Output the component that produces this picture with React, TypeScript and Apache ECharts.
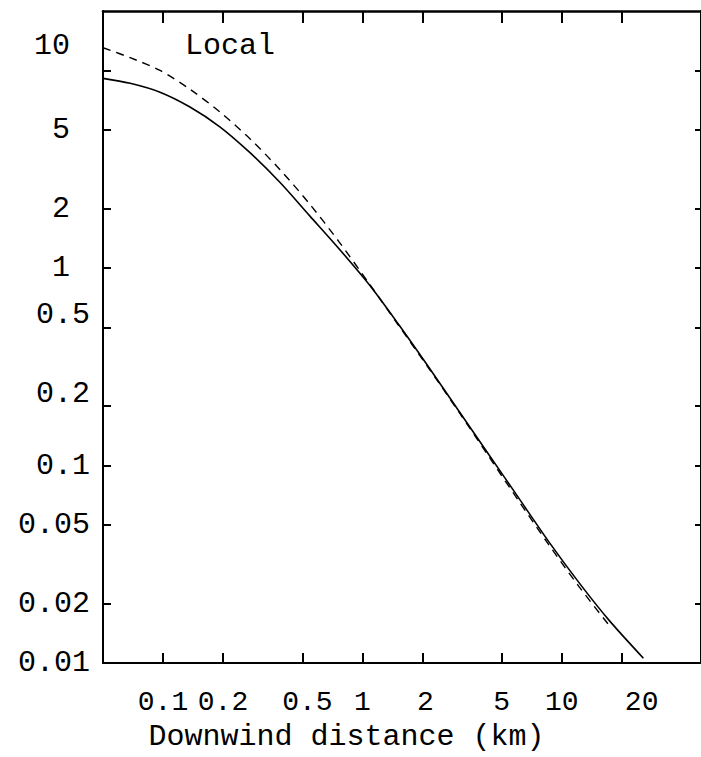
import React, { useEffect, useRef } from "react";
import * as echarts from "echarts";

const xTickValues = [0.1, 0.2, 0.5, 1, 2, 5, 10, 20];
const xTickLabels = ["0.1", "0.2", "0.5", "1", "2", "5", "10", "20"];
const yTickValues = [0.01, 0.02, 0.05, 0.1, 0.2, 0.5, 1, 2, 5, 10];
const yTickLabels = ["0.01", "0.02", "0.05", "0.1", "0.2", "0.5", "1", "2", "5", "10"];

// Solid curve (downwind distance km, value)
const solidX = [0.05, 0.0684, 0.0966, 0.1365, 0.1928, 0.2723, 0.3846, 0.5433, 0.7674, 1.084, 1.531, 2.163, 3.055, 4.315, 6.095, 8.61, 12.16, 17.18, 25.7];
const solidY = [9.12, 8.61, 7.762, 6.531, 5.188, 3.846, 2.723, 1.841, 1.245, 0.8222, 0.5129, 0.3126, 0.1884, 0.1135, 0.0684, 0.04121, 0.0257, 0.0166, 0.01059];

// Dashed curve
const dashedX = [0.05, 0.0684, 0.0966, 0.1365, 0.1928, 0.2723, 0.3846, 0.5433, 0.7674, 1.084, 1.531, 2.163, 3.055, 4.315, 6.095, 8.61, 12.16, 17.18];
const dashedY = [13.03, 11.61, 10.0, 8.035, 6.166, 4.519, 3.162, 2.113, 1.349, 0.8318, 0.507, 0.309, 0.1862, 0.1109, 0.0661, 0.0398, 0.02455, 0.01567];

const panelLabel = "Local";
const xTitle = "Downwind distance (km)";

const FONT = "'Liberation Mono', 'DejaVu Sans Mono', monospace";
const FS = 30;

function lookup(vals: number[], v: number): number {
  return vals.findIndex((t) => Math.abs(Math.log10(t) - Math.log10(v)) < 1e-4);
}

const base = { fontFamily: FONT, fontSize: FS, color: "#000", lineHeight: 30 };
const xBase = { fontFamily: FONT, fontSize: 28, color: "#000", lineHeight: 30 };

// horizontal nudges of x labels as in the typeset original
const xRich: Record<string, any> = {
  d: { ...xBase },
  c: { ...xBase, padding: [0, 0, 0, 10] },
  f: { ...xBase, padding: [0, 0, 0, 6] },
  s: { ...xBase, padding: [0, 0, 0, 40] },
};
const xStyleKey: Record<string, string> = { "0.5": "c", "2": "f", "20": "s" };

export default function App() {
  const ref = useRef<HTMLDivElement>(null);
  useEffect(() => {
    const chart = echarts.init(ref.current!, null, { renderer: "svg" });
    const axisLine = { show: true, lineStyle: { color: "#000", width: 2 } };
    const option: any = {
      animation: false,
      backgroundColor: "#fff",
      grid: { left: 103, right: -2, top: 11, bottom: 86 },
      xAxis: [
        {
          type: "log",
          logBase: 10,
          min: 0.05,
          max: 50,
          position: "bottom",
          axisLine,
          splitLine: { show: false },
          minorTick: { show: false },
          axisTick: { show: true, inside: true, length: 10, lineStyle: { color: "#000", width: 2 }, customValues: xTickValues },
          axisLabel: {
            show: true,
            margin: 24,
            hideOverlap: false,
            showMinLabel: true,
            showMaxLabel: true,
            customValues: xTickValues,
            ...xBase,
            formatter: (v: number) => {
              const i = lookup(xTickValues, v);
              if (i < 0) return "";
              const s = xTickLabels[i];
              return `{${xStyleKey[s] || "d"}|${s}}`;
            },
            rich: xRich,
          },
          name: xTitle,
          nameLocation: "middle",
          nameGap: 54,
          nameTextStyle: { ...base, padding: [0, 111, 0, 0] },
        },
        {
          type: "log",
          logBase: 10,
          min: 0.05,
          max: 50,
          position: "top",
          axisLine: { show: true, lineStyle: { color: "#000", width: 2.5 } },
          splitLine: { show: false },
          minorTick: { show: false },
          axisTick: { show: true, inside: true, length: 12, lineStyle: { color: "#000", width: 2 }, customValues: xTickValues },
          axisLabel: { show: false },
        },
      ],
      yAxis: [
        {
          type: "log",
          logBase: 10,
          min: 0.01,
          max: 20,
          position: "left",
          axisLine,
          splitLine: { show: false },
          minorTick: { show: false },
          axisTick: { show: true, inside: true, length: 8, lineStyle: { color: "#000", width: 2 }, customValues: yTickValues },
          axisLabel: {
            show: true,
            margin: 13,
            hideOverlap: false,
            showMinLabel: true,
            showMaxLabel: true,
            customValues: yTickValues,
            ...base,
            formatter: (v: number) => {
              const i = lookup(yTickValues, v);
              if (i < 0) return "";
              const s = yTickLabels[i];
              if (s === "10") return `{t|${s}}`;
              if (s === "5" || s === "2" || s === "1") return `{i|${s}}`;
              if (s === "0.5" || s === "0.2") return `{u|${s}}`;
              return `{d|${s}}`;
            },
            rich: {
              d: { ...base },
              i: { ...base, padding: [0, 20, 0, 0] },
              t: { ...base, padding: [0, 20, 48, 0] },
              u: { ...base, padding: [0, 0, 24, 0] },
            },
          },
        },
        {
          type: "log",
          logBase: 10,
          min: 0.01,
          max: 20,
          position: "right",
          axisLine,
          splitLine: { show: false },
          minorTick: { show: false },
          axisTick: { show: true, inside: true, length: 6, lineStyle: { color: "#000", width: 2 }, customValues: yTickValues },
          axisLabel: { show: false },
        },
      ],
      graphic: [
        {
          type: "text",
          left: 185,
          top: 31,
          style: { text: panelLabel, font: `${FS}px ${FONT}`, fill: "#000" },
        },
      ],
      series: [
        {
          type: "line",
          xAxisIndex: 0,
          yAxisIndex: 0,
          data: solidX.map((x, i) => [x, solidY[i]]),
          showSymbol: false,
          smooth: 0.3,
          lineStyle: { color: "#000", width: 1.6 },
        },
        {
          type: "line",
          xAxisIndex: 0,
          yAxisIndex: 0,
          data: dashedX.map((x, i) => [x, dashedY[i]]),
          showSymbol: false,
          smooth: 0.3,
          lineStyle: { color: "#000", width: 1.4, type: [8, 6] },
        },
      ],
    };
    chart.setOption(option);
    return () => chart.dispose();
  }, []);
  return (
    <div
      ref={ref}
      style={{ position: "absolute", left: 0, top: 0, width: 701, height: 757, background: "#fff" }}
    />
  );
}
